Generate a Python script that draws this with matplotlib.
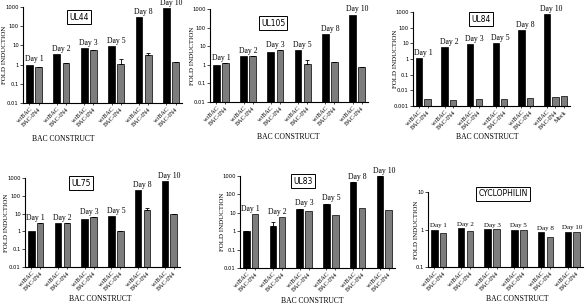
import matplotlib.pyplot as plt
from matplotlib.ticker import FixedLocator, NullLocator

days = ["Day 1", "Day 2", "Day 3", "Day 5", "Day 8", "Day 10"]

# fold induction values
ul44_wt = [1.0, 3.5, 7.0, 9.5, 300, 900]
ul44_in = [0.75, 1.2, 5.5, 1.1, 3.0, 1.4]
ul44_err = [0, 0, 0, 0.9, 1.0, 0]

ul105_wt = [1.0, 3.0, 5.0, 6.5, 45, 500]
ul105_in = [1.2, 2.8, 6.0, 1.1, 1.5, 0.75]
ul105_err = [0, 0, 0, 0.7, 0, 0]

ul84_wt = [1.1, 5.5, 9.0, 11, 75, 700]
ul84_in = [0.003, 0.0025, 0.0028, 0.003, 0.0032, 0.0035]
ul84_mock = 0.0045

ul75_wt = [1.0, 3.0, 5.0, 7.5, 200, 700]
ul75_in = [3.0, 2.8, 6.5, 1.1, 15, 9.0]
ul75_err = [0, 0, 0, 0, 7, 0]

ul83_wt = [1.0, 2.0, 17, 32, 450, 950]
ul83_in = [9.0, 6.0, 12, 7.5, 18, 15]
ul83_wt_err = [0, 1.0, 0, 0, 0, 0]

cyc_wt = [1.0, 1.1, 1.05, 1.0, 0.85, 0.88]
cyc_in = [0.8, 0.92, 1.02, 0.95, 0.65, 0.87]

W, H = 586, 306
fig = plt.figure(figsize=(W / 100, H / 100), dpi=100)
serif = "Liberation Serif"


def px_axes(x0, y0, x1, y1):
    return fig.add_axes([x0 / W, 1 - y1 / H, (x1 - x0) / W, (y1 - y0) / H])


def panel(box, title, title_xy, wt, inn, yticks, xlab_xy, ylab_x,
          in_err=None, wt_err=None, mock=None, day_fs=5.6):
    ax = px_axes(*box)
    xs_wt = [i * 3 for i in range(len(wt))]
    xs_in = [i * 3 + 1 for i in range(len(inn))]
    ax.set_yscale("log")
    ax.bar(xs_wt, wt, width=0.75, color="black", edgecolor="black", lw=0.5,
           yerr=None if wt_err is None else [[0] * len(wt), wt_err],
           error_kw=dict(lw=0.6, capsize=1.2, capthick=0.6))
    ax.bar(xs_in, inn, width=0.75, color="#7d7d7d", edgecolor="black", lw=0.5,
           yerr=None if in_err is None else [[0] * len(inn), in_err],
           error_kw=dict(lw=0.6, capsize=1.2, capthick=0.6))
    xt, xl = [], []
    for a, b in zip(xs_wt, xs_in):
        xt += [a, b]
        xl += ["wtBAC", "BAC-IN4"]
    if mock is not None:
        ax.bar([xs_in[-1] + 1], [mock], width=0.75, color="#7d7d7d",
               edgecolor="black", lw=0.5)
        xt.append(xs_in[-1] + 1)
        xl.append("Mock")
    ax.set_xlim(-0.7, xt[-1] + 0.7)
    ax.set_ylim(yticks[0], yticks[-1])
    ax.yaxis.set_major_locator(FixedLocator(yticks))
    ax.yaxis.set_minor_locator(NullLocator())
    ax.set_yticklabels([("%g" % t) for t in yticks], fontsize=3.8)
    ax.set_xticks(xt)
    ax.set_xticklabels(xl, rotation=45, ha="right", va="top",
                       fontsize=4.5, family=serif, rotation_mode="anchor")
    ax.tick_params(axis="x", length=1.5, width=0.5, pad=1)
    ax.tick_params(axis="y", length=2, width=0.5, pad=1)
    for s in ("top", "right"):
        ax.spines[s].set_visible(False)
    for s in ("left", "bottom"):
        ax.spines[s].set_linewidth(0.8)
    for i, d in enumerate(days):
        top = max(wt[i], inn[i])
        ax.annotate(d, (i * 3 + 0.5, top), xytext=(0, 0.8),
                    textcoords="offset points", ha="center", va="bottom",
                    fontsize=day_fs, family=serif, annotation_clip=False)
    fig.text(title_xy[0] / W, 1 - title_xy[1] / H, title, fontsize=5.5,
             ha="center", va="center", family="DejaVu Sans",
             bbox=dict(boxstyle="square,pad=0.3", fc="white", ec="black",
                       lw=0.7))
    fig.text(xlab_xy[0] / W, 1 - xlab_xy[1] / H, "BAC CONSTRUCT",
             fontsize=5.5, ha="center", va="center", family=serif)
    mid = (box[1] + box[3]) / 2
    fig.text(ylab_x / W, 1 - mid / H, "FOLD INDUCTION", fontsize=5,
             rotation=90, ha="center", va="center", family=serif)
    return ax


dec3 = [0.01, 0.1, 1, 10, 100, 1000]

panel((23, 7, 182, 103), "UL44", (79, 17), ul44_wt, ul44_in, dec3,
      (63, 139), 5, in_err=ul44_err)
panel((210, 9, 368, 102), "UL105", (273, 23), ul105_wt, ul105_in, dec3,
      (288, 137), 193, in_err=ul105_err)
panel((413, 12, 570, 106), "UL84", (481, 19), ul84_wt, ul84_in,
      [0.001] + dec3, (487, 137), 396, mock=ul84_mock)
panel((25, 178, 180, 267), "UL75", (81, 183), ul75_wt, ul75_in, dec3,
      (100, 299), 7, in_err=ul75_err)
panel((240, 176, 395, 268), "UL83", (303, 181), ul83_wt, ul83_in, dec3,
      (312, 301), 223, wt_err=ul83_wt_err)
panel((428, 192, 583, 267), "CYCLOPHILIN", (503, 194), cyc_wt, cyc_in,
      [0.1, 1, 10], (517, 299), 416, day_fs=5)

fig.savefig("out.png", dpi=100)
